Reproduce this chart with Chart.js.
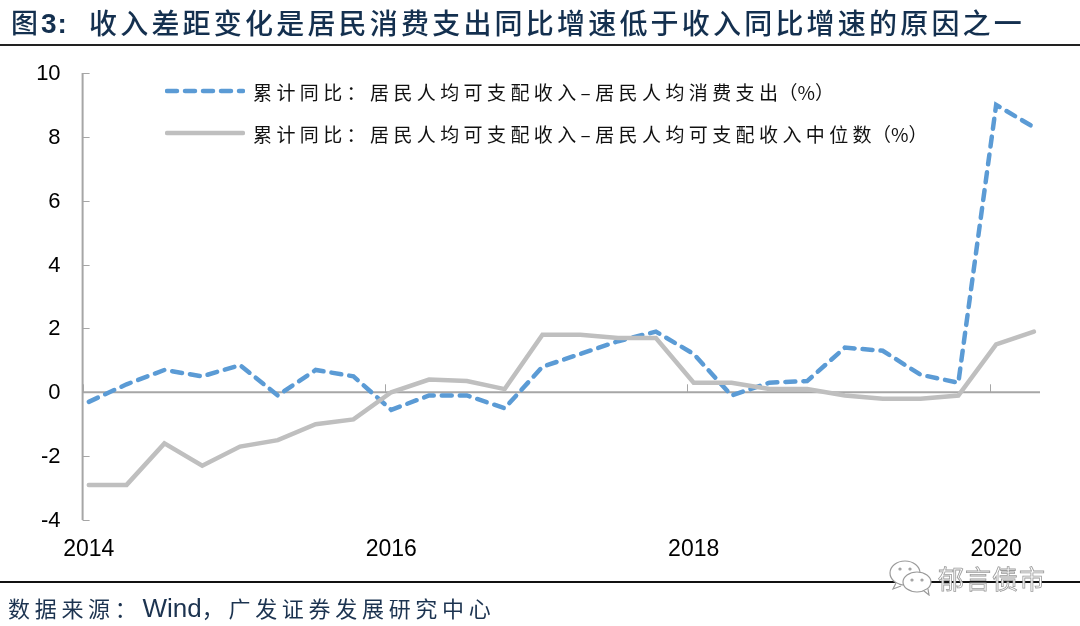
<!DOCTYPE html>
<html>
<head>
    <title>图3</title>
    <script src='https://cdn.jsdelivr.net/npm/chart.js'></script>
    <style>
        html, body { margin: 0; padding: 0; background: #fff; }
        #page { position: relative; width: 1080px; height: 626px; overflow: hidden; font-family: "Noto Sans CJK SC", sans-serif; }
        #page > div, #page > svg { position: absolute; white-space: nowrap; }
        #chartBox { left: 0; top: 0; width: 1080px; height: 626px; }
        #titleNo { left: 11px; top: 2px; font-size: 27px; line-height: 40px; font-weight: 500; color: #14304f; }
        #titleNo b { font-family: "Liberation Sans", sans-serif; font-size: 28px; margin-left: 3px; letter-spacing: 1px; }
        #title { left: 89px; top: 2px; font-size: 28px; line-height: 40px; letter-spacing: 3.2px; font-weight: 500; color: #14304f; }
        .rule { left: 0; width: 1080px; background: #222; }
        #ruleTop { top: 44px; height: 2px; }
        #ruleBottom { top: 581px; height: 2px; background: #111; }
        #source { left: 8px; top: 591px; font-size: 22px; line-height: 32px; letter-spacing: 4.7px; color: #1c3350; }
        #source span { font-family: "Liberation Sans", sans-serif; letter-spacing: 0; font-size: 26px; margin-left: 1px; }
        .legendRow { left: 165px; height: 30px; display: flex; align-items: center; font-size: 19px; letter-spacing: 4.4px; color: #111; }
        .legendRow svg { width: 80px; height: 8px; margin-right: 8px; }
        .legendRow span { letter-spacing: 0; margin-left: -4px; }
        #mark { left: 938px; top: 560px; font-size: 26px; line-height: 36px; letter-spacing: 1px; color: #fff; -webkit-text-stroke: 0.8px #9a9a9a; }
    </style>
</head>
<body>
    <div id="page">
        <div id="chartBox"><canvas id="chart" width="1080" height="626"></canvas></div>
        <div id="titleNo">图<b>3:</b></div>
        <div id="title">收入差距变化是居民消费支出同比增速低于收入同比增速的原因之一</div>
        <div id="ruleTop" class="rule"></div>
        <div id="ruleBottom" class="rule"></div>
        <div class="legendRow" style="top:76px" id="legendA"></div>
        <div class="legendRow" style="top:118px" id="legendB"></div>
        <div id="source">数据来源&#xFF1A;<span>Wind</span>&#xFF0C;广发证券发展研究中心</div>
        <svg style="left:889px;top:560px" width="46" height="36" viewBox="0 0 46 36" fill="#fff" stroke="#9a9a9a" stroke-width="1.2">
            <ellipse cx="16" cy="13" rx="15" ry="12"/>
            <path d="M7 23l-3 6 8-3"/>
            <ellipse cx="28" cy="22" rx="14" ry="10"/>
            <path d="M35 31l5 4-1-6"/>
            <circle cx="11" cy="9" r="1"/><circle cx="21" cy="9" r="1"/>
            <circle cx="23" cy="20" r="1"/><circle cx="33" cy="20" r="1"/>
        </svg>
        <div id="mark">郁言债市</div>
    </div>

    <script>
        const quarters = ['2014Q1','2014Q2','2014Q3','2014Q4','2015Q1','2015Q2','2015Q3','2015Q4',
            '2016Q1','2016Q2','2016Q3','2016Q4','2017Q1','2017Q2','2017Q3','2017Q4',
            '2018Q1','2018Q2','2018Q3','2018Q4','2019Q1','2019Q2','2019Q3','2019Q4','2020Q1','2020Q2'];
        const consumptionGap = [-0.3,0.25,0.7,0.5,0.85,-0.1,0.7,0.5,-0.55,-0.1,-0.1,-0.5,0.8,1.2,1.6,1.9,1.2,-0.1,0.3,0.35,1.4,1.3,0.55,0.3,9.0,8.3];
        const medianGap = [-2.9,-2.9,-1.6,-2.3,-1.7,-1.5,-1.0,-0.85,0,0.4,0.35,0.1,1.8,1.8,1.7,1.7,0.3,0.3,0.1,0.1,-0.1,-0.2,-0.2,-0.1,1.5,1.9];
        const legendLabels = ['累计同比\uFF1A居民人均可支配收入\u2013居民人均消费支出', '累计同比\uFF1A居民人均可支配收入\u2013居民人均可支配收入中位数'];
        const legendUnit = '\uFF08%\uFF09';
        const yearLabels = ['2014','2016','2018','2020'];
        const yearIndex = [0,8,16,24];

        const BLUE = '#5b9bd5';
        const GRAY = '#bfbfbf';
        const AXIS = '#a6a6a6';
        const TICK_SHIFT = 0.164; // tick marks sit a little left of the year's point

        function legendRow(id, text, color, dash) {
            const row = document.getElementById(id);
            row.innerHTML = '<svg viewBox="0 0 80 8"><line x1="2" y1="4" x2="78" y2="4" stroke="' + color +
                '" stroke-width="4.5" stroke-linecap="round" stroke-dasharray="' + dash + '"/></svg>';
            row.appendChild(document.createTextNode(text));
            const unit = document.createElement('span');
            unit.textContent = legendUnit;
            row.appendChild(unit);
        }
        legendRow('legendA', legendLabels[0], BLUE, '10 8');
        legendRow('legendB', legendLabels[1], GRAY, 'none');

        // axis lines and inward tick marks, zero line crosses the plot
        const axisMarks = {
            id: 'axisMarks',
            beforeDatasetsDraw(chart) {
                const { ctx, scales: { x, y } } = chart;
                const zero = y.getPixelForValue(0);
                ctx.save();
                ctx.strokeStyle = AXIS;
                ctx.lineWidth = 2;
                ctx.beginPath();
                ctx.moveTo(x.left, y.top);
                ctx.lineTo(x.left, y.bottom);
                ctx.moveTo(x.left, zero);
                ctx.lineTo(x.right, zero);
                ctx.stroke();
                ctx.lineWidth = 1;
                ctx.beginPath();
                y.ticks.forEach(t => {
                    const py = Math.round(y.getPixelForValue(t.value)) + 0.5;
                    ctx.moveTo(x.left, py);
                    ctx.lineTo(x.left + 7, py);
                });
                yearIndex.forEach(i => {
                    const px = Math.round(x.getPixelForValue(i - TICK_SHIFT)) + 0.5;
                    ctx.moveTo(px, zero);
                    ctx.lineTo(px, zero - 8);
                });
                ctx.stroke();
                ctx.restore();
            }
        };

        new Chart(document.getElementById('chart').getContext('2d'), {
            type: 'line',
            data: {
                labels: quarters,
                datasets: [{
                    label: legendLabels[0],
                    data: consumptionGap.map((v, i) => ({ x: i, y: v })),
                    borderColor: BLUE,
                    borderWidth: 4.5,
                    borderDash: [10, 8],
                    borderCapStyle: 'round',
                    pointRadius: 0,
                    tension: 0,
                    order: 2
                }, {
                    label: legendLabels[1],
                    data: medianGap.map((v, i) => ({ x: i, y: v })),
                    borderColor: GRAY,
                    borderWidth: 4.5,
                    borderCapStyle: 'round',
                    pointRadius: 0,
                    tension: 0,
                    order: 1
                }]
            },
            options: {
                responsive: false,
                animation: false,
                layout: { padding: { top: 73, right: 40, left: 0, bottom: 0 } },
                plugins: { legend: { display: false }, tooltip: { enabled: false } },
                scales: {
                    x: {
                        type: 'linear',
                        min: -TICK_SHIFT,
                        max: 25.16,
                        grid: { display: false },
                        border: { display: false },
                        afterBuildTicks: scale => { scale.ticks = yearIndex.map(v => ({ value: v })); },
                        afterFit: scale => { scale.height = 106; },
                        ticks: {
                            autoSkip: false,
                            maxRotation: 0,
                            padding: 8,
                            color: '#000',
                            font: { family: '"Liberation Sans"', size: 23 },
                            callback: value => yearLabels[yearIndex.indexOf(value)]
                        }
                    },
                    y: {
                        min: -4,
                        max: 10,
                        grid: { display: false },
                        border: { display: false },
                        afterFit: scale => { scale.width = 82.6; },
                        ticks: {
                            stepSize: 2,
                            padding: 14,
                            labelOffset: 1,
                            color: '#000',
                            font: { family: '"Liberation Sans"', size: 22 }
                        }
                    }
                }
            },
            plugins: [axisMarks]
        });
    </script>
</body>
</html>
